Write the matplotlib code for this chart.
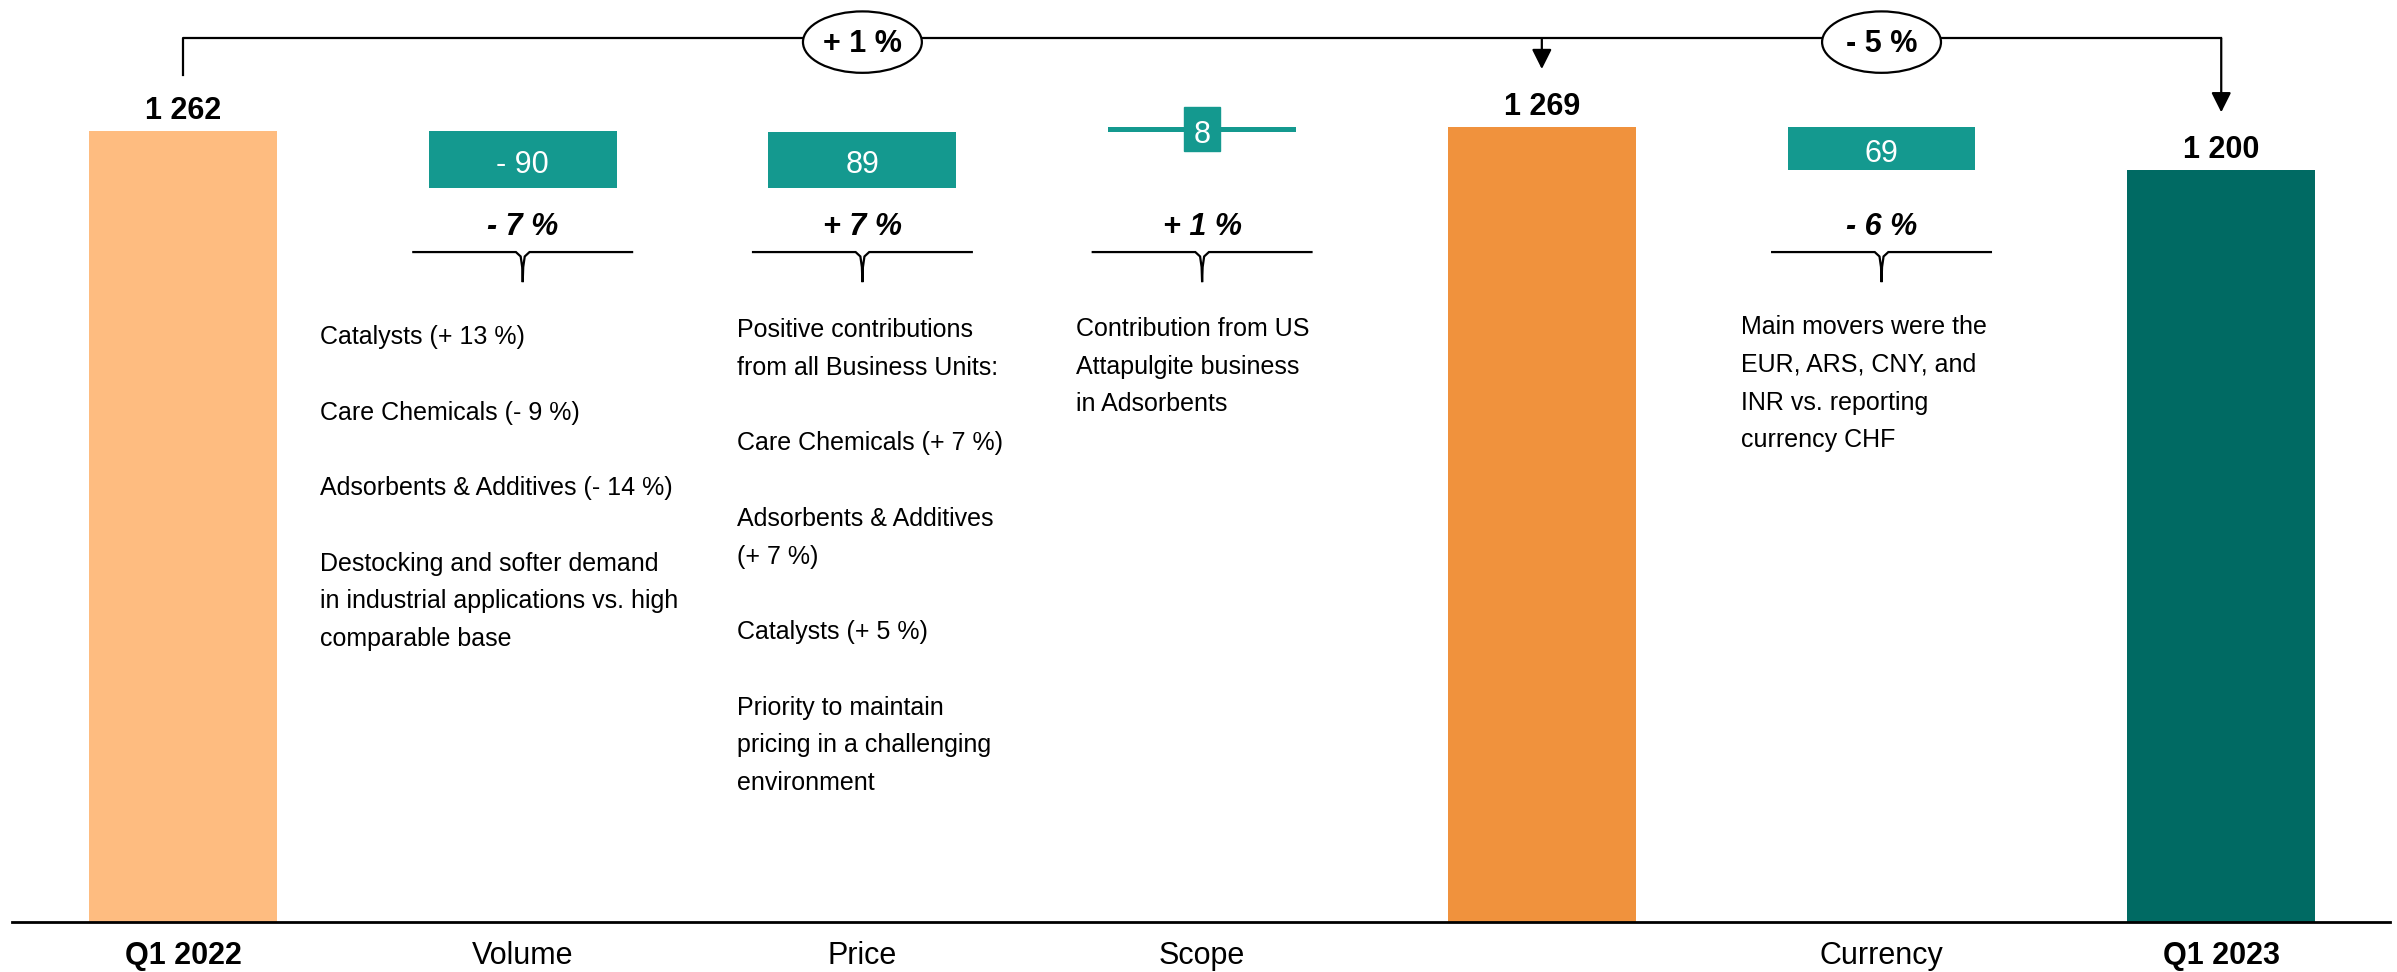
import numpy as np
import matplotlib.pyplot as plt
from matplotlib.patches import Ellipse, Rectangle

plt.rcParams['font.family'] = ['Liberation Sans', 'DejaVu Sans']

# Umsatzbrücke Q1 2022 -> Q1 2023 (Mio. CHF)
categories = ["Q1 2022", "Volume", "Price", "Scope", "", "Currency", "Q1 2023"]
start_value = 1262
bridge_steps = [-90, 89, 8]          # Volume, Price, Scope
mid_value = 1269
currency_step = -69
end_value = 1200

step_labels = ["- 90", "89", "8", "69"]
step_pct = ["- 7 %", "+ 7 %", "+ 1 %", "- 6 %"]
total_pct = ["+ 1 %", "- 5 %"]

notes_volume = ["Catalysts (+ 13 %)", "",
                "Care Chemicals (- 9 %)", "",
                "Adsorbents & Additives (- 14 %)", "",
                "Destocking and softer demand",
                "in industrial applications vs. high",
                "comparable base"]
notes_price = ["Positive contributions", "from all Business Units:", "",
               "Care Chemicals (+ 7 %)", "",
               "Adsorbents & Additives", "(+ 7 %)", "",
               "Catalysts (+ 5 %)", "",
               "Priority to maintain", "pricing in a challenging",
               "environment"]
notes_scope = ["Contribution from US", "Attapulgite business", "in Adsorbents"]
notes_currency = ["Main movers were the", "EUR, ARS, CNY, and",
                  "INR vs. reporting", "currency CHF"]

C_START = "#FEBC80"
C_MID = "#F0923D"
C_END = "#006A63"
C_STEP = "#14998F"

W = 0.553
pos = np.arange(len(categories))

fig = plt.figure(figsize=(23.97, 9.72), dpi=100)
ax = fig.add_axes([0, 50 / 972, 1, 922 / 972])
ax.set_xlim(-0.5387, 6.5174)
ax.set_ylim(0, 1471.2)

# Summenbalken
ax.bar(pos[0], start_value, width=W, color=C_START)
ax.bar(pos[4], mid_value, width=W, color=C_MID)
ax.bar(pos[6], end_value, width=W, color=C_END)

# Veränderungen
after = start_value + np.cumsum(bridge_steps)
before = np.concatenate([[start_value], after[:-1]])
step_after = np.append(after, mid_value + currency_step)
step_before = np.append(before, mid_value)
steps = np.append(bridge_steps, currency_step)
step_x = [1, 2, 3, 5]
bottoms = np.minimum(step_before, step_after)
ax.bar(step_x, np.abs(steps), bottom=bottoms, width=W, color=C_STEP)

for x, b, s, lab in zip(step_x, bottoms, steps, step_labels):
    yc = b + abs(s) / 2
    if abs(s) < 30:
        ax.add_patch(Rectangle((x - 0.053, yc - 35), 0.106, 70, color=C_STEP, zorder=3))
    ax.text(x, yc - 22, lab, ha='center', va='baseline', color='white', fontsize=22, zorder=4)

# Werte über den Summenbalken
for x, v in [(0, start_value), (4, mid_value), (6, end_value)]:
    ax.text(x, v + 19, f"{v:,}".replace(",", " "), ha='center', va='baseline',
            fontsize=22, fontweight='bold')

# Prozentangaben mit Klammer
for x, p in zip(step_x, step_pct):
    ax.text(x, 1097, p, ha='center', va='baseline', fontsize=22,
            fontweight='bold', fontstyle='italic')
    bx = [x - 0.322, x - 0.02, x - 0.006, x - 0.0015, x, x + 0.0015, x + 0.006, x + 0.02, x + 0.322]
    by = [1069, 1069, 1062, 1045, 1021, 1045, 1062, 1069, 1069]
    ax.plot(bx, by, color='black', lw=1.6, solid_joinstyle='miter')

# Erläuterungen
pitch = 60.2
for x0, y0, lines in [(1 - 0.598, 922, notes_volume), (2 - 0.368, 933, notes_price),
                      (3 - 0.37, 935, notes_scope), (5 - 0.413, 938, notes_currency)]:
    for i, line in enumerate(lines):
        if line:
            ax.text(x0, y0 - i * pitch, line, ha='left', va='baseline', fontsize=18)

# Klammer oben
BR_Y = 1410
ax.plot([0, 0, 6], [start_value + 90, BR_Y, BR_Y], color='black', lw=1.6, zorder=2)
for x, v in [(4, mid_value), (6, end_value)]:
    ax.annotate("", xy=(x, v + 92), xytext=(x, BR_Y),
                arrowprops=dict(arrowstyle='-|>,head_length=0.6,head_width=0.3',
                                color='black', lw=1.6, shrinkA=0, shrinkB=0,
                                mutation_scale=20))
for x, p in zip([2, 5], total_pct):
    ax.add_patch(Ellipse((x, 1404), 0.35, 98, facecolor='white', edgecolor='black',
                         lw=1.6, zorder=5))
    ax.text(x, 1388, p, ha='center', va='baseline', fontsize=22, fontweight='bold', zorder=6)

# Achse
for s in ['top', 'left', 'right']:
    ax.spines[s].set_visible(False)
ax.spines['bottom'].set_bounds(-0.503, 6.497)
ax.spines['bottom'].set_linewidth(2)
ax.set_yticks([])
ax.set_xticks(pos, categories)
ax.tick_params(axis='x', length=0, pad=14, labelsize=22)
for t in ax.get_xticklabels():
    if t.get_text().startswith("Q1"):
        t.set_fontweight('bold')

fig.savefig("out.png", dpi=100)
